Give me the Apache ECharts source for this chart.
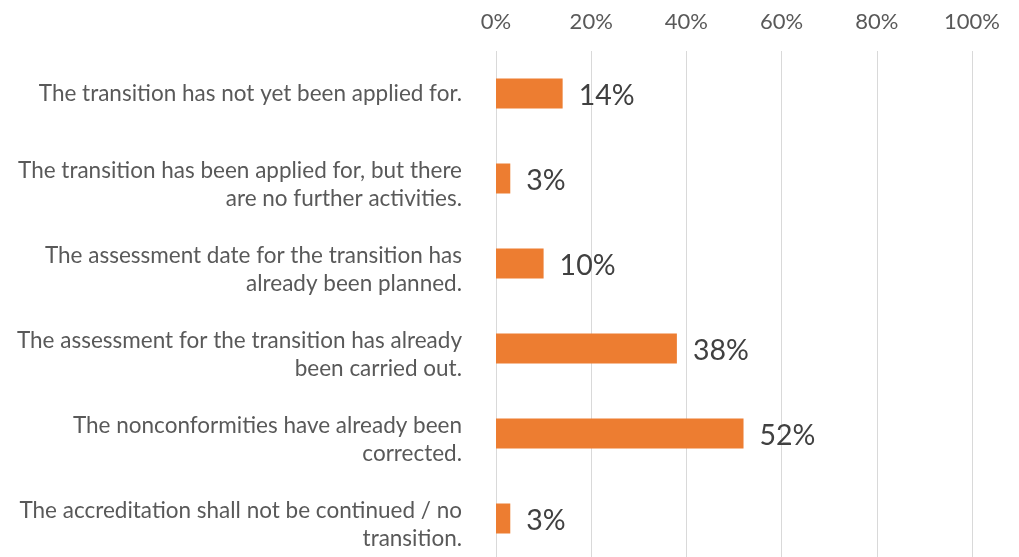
<!DOCTYPE html>
<html>
<head>
<meta charset="utf-8">
<script src="https://cdn.jsdelivr.net/npm/echarts@6/dist/echarts.min.js"></script>
<style>
html,body{margin:0;padding:0;background:#fff;}
#c{width:1019px;height:557px;}
</style>
</head>
<body>
<div id="c"></div>
<script>
const categories = [
  "The transition has not yet been applied for.",
  "The transition has been applied for, but there\nare no further activities.",
  "The assessment date for the transition has\nalready been planned.",
  "The assessment for the transition has already\nbeen carried out.",
  "The nonconformities have already been\ncorrected.",
  "The accreditation shall not be continued / no\ntransition."
];
const values = [14, 3, 10, 38, 52, 3];
const xTicks = [0, 20, 40, 60, 80, 100];

const FONT = 'Lato';
const catStyle = {color: '#595959', fontFamily: FONT, fontSize: 22.5, lineHeight: 28};
const chart = echarts.init(document.getElementById('c'), null, {renderer: 'canvas'});
chart.setOption({
  animation: false,
  backgroundColor: '#ffffff',
  grid: {left: 496, top: 51, width: 476, height: 510, containLabel: false, outerBoundsMode: 'none'},
  xAxis: {
    type: 'value',
    position: 'top',
    min: xTicks[0],
    max: xTicks[xTicks.length - 1],
    interval: xTicks[1] - xTicks[0],
    axisLine: {show: false},
    axisTick: {show: false},
    axisLabel: {formatter: '{value}%', color: '#595959', fontFamily: FONT, fontSize: 22, margin: 18},
    splitLine: {show: true, lineStyle: {color: '#D9D9D9', width: 1}}
  },
  yAxis: {
    type: 'category',
    inverse: true,
    data: categories,
    axisLine: {show: false},
    axisTick: {show: false},
    axisLabel: {
      color: '#595959', fontFamily: FONT, fontSize: 22.5, lineHeight: 28, margin: 34, align: 'right',
      formatter: function (v) {
        const parts = v.split('\n');
        if (parts.length === 1) return '{s|' + v + '}';
        return '{sp| }\n' + parts.map(function (p) { return '{s|' + p + '}'; }).join('\n');
      },
      rich: {
        s: catStyle,
        sp: {fontSize: 2, lineHeight: 12, color: '#595959'}
      }
    }
  },
  series: [{
    type: 'bar',
    data: values,
    barWidth: 30,
    itemStyle: {color: '#ED7D31'},
    label: {show: true, position: 'right', distance: 16, offset: [0, 2], formatter: '{c}%', color: '#404040', fontFamily: FONT, fontSize: 28.5}
  }]
});
</script>
</body>
</html>
